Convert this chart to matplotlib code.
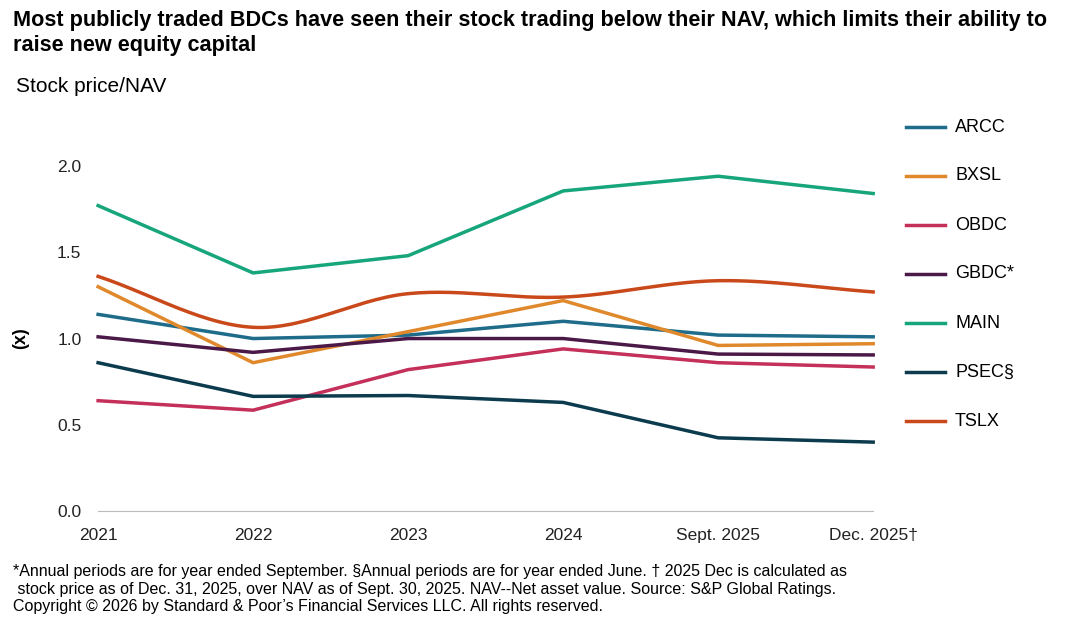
import numpy as np
import matplotlib
matplotlib.use("Agg")
import matplotlib.pyplot as plt

plt.rcParams['font.family'] = ['Liberation Sans', 'DejaVu Sans']

periods = ["2021", "2022", "2023", "2024", "Sept. 2025", "Dec. 2025\u2020"]
names = ["ARCC", "BXSL", "OBDC", "GBDC*", "MAIN", "PSEC\u00a7", "TSLX"]
arcc = [1.14, 1.00, 1.02, 1.10, 1.02, 1.01]
bxsl = [1.30, 0.86, 1.04, 1.22, 0.96, 0.97]
obdc = [0.64, 0.585, 0.82, 0.94, 0.86, 0.835]
gbdc = [1.01, 0.92, 1.00, 1.00, 0.91, 0.905]
main = [1.77, 1.38, 1.48, 1.855, 1.94, 1.84]
psec = [0.86, 0.665, 0.67, 0.63, 0.425, 0.40]
tslx = [1.36, 1.065, 1.26, 1.24, 1.335, 1.27]
series = [arcc, bxsl, obdc, gbdc, main, psec, tslx]
colors = ["#1e6b8a", "#e0892c", "#c4305a", "#4b1948", "#17a57c", "#0c3b4e", "#c9491a"]

def smooth(x, y, n=30):
    x = np.asarray(x, float); y = np.asarray(y, float)
    xs, ys = [], []
    m = np.gradient(y, x)
    for i in range(len(x) - 1):
        t = np.linspace(0, 1, n)
        h = x[i+1] - x[i]
        h00 = 2*t**3 - 3*t**2 + 1; h10 = t**3 - 2*t**2 + t
        h01 = -2*t**3 + 3*t**2; h11 = t**3 - t**2
        xs.append(x[i] + t*h)
        ys.append(h00*y[i] + h10*h*m[i] + h01*y[i+1] + h11*h*m[i+1])
    return np.concatenate(xs), np.concatenate(ys)

fig = plt.figure(figsize=(10.78, 6.43), dpi=100)
ax = fig.add_axes([0.091, 0.205, 0.719, 0.537])
x = np.arange(len(periods))
for nm, s, c in zip(names, series, colors):
    if nm == "TSLX":
        xs, ys = smooth(x, s)
        ax.plot(xs, ys, color=c, lw=2.5, clip_on=False)
    else:
        ax.plot(x, s, color=c, lw=2.5, clip_on=False)

ax.set_xlim(0, len(periods) - 1)
ax.set_ylim(0, 2.0)
ax.set_yticks([0, 0.5, 1.0, 1.5, 2.0])
ax.set_yticklabels(["0.0", "0.5", "1.0", "1.5", "2.0"])
ax.set_xticks(x)
ax.set_xticklabels(periods)
for sp in ["top", "right", "left"]:
    ax.spines[sp].set_visible(False)
ax.spines["bottom"].set_color("#bbbbbb")
ax.tick_params(axis="both", length=0, labelsize=12.5, colors="#222222")
ax.tick_params(axis="x", pad=12)
ax.tick_params(axis="y", pad=12)
ax.set_ylabel("(x)", fontsize=13, fontweight="bold", labelpad=20)

fig.text(0.012, 0.985, "Most publicly traded BDCs have seen their stock trading below their NAV, which limits their ability to\nraise new equity capital",
         fontsize=15.6, fontweight="bold", va="top", linespacing=1.3)
fig.text(0.015, 0.865, "Stock price/NAV", fontsize=15, va="center")

leg_y = [127, 176, 225, 274, 323, 372, 421]
for nm, c, yy in zip(names, colors, leg_y):
    fy = 1 - yy / 643
    fig.add_artist(plt.Line2D([0.84, 0.877], [fy, fy], color=c, lw=2.5, transform=fig.transFigure))
    fig.text(0.886, fy, nm, fontsize=13, va="center")

fig.text(0.012, 0.045, "*Annual periods are for year ended September. \u00a7Annual periods are for year ended June. \u2020 2025 Dec is calculated as\n stock price as of Dec. 31, 2025, over NAV as of Sept. 30, 2025. NAV--Net asset value. Source: S&P Global Ratings.\nCopyright \u00a9 2026 by Standard & Poor\u2019s Financial Services LLC. All rights reserved.",
         fontsize=11.5, va="bottom", linespacing=1.2)

fig.savefig("out.png", dpi=100)
